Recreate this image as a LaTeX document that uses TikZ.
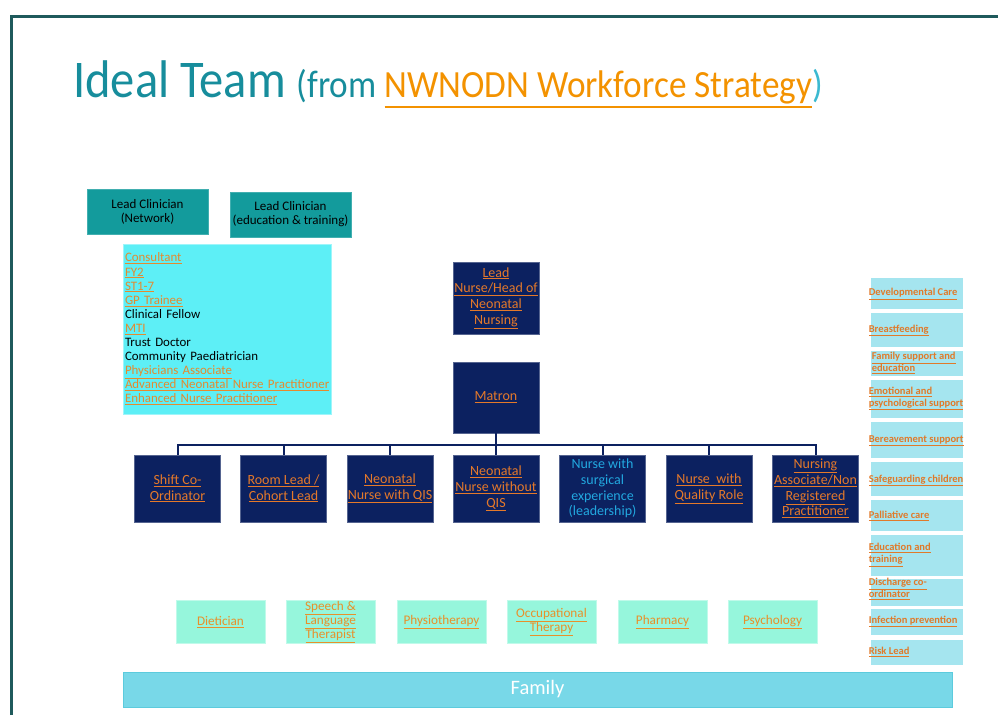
\documentclass[tikz,border=0pt]{standalone}
\usepackage{fontspec}
\setmainfont{Carlito}
\definecolor{frameC}{HTML}{1F5A5C}
\definecolor{titleC}{HTML}{178D9C}
\definecolor{linkC}{HTML}{F39200}
\definecolor{parenC}{HTML}{3BB9D0}
\definecolor{leadC}{HTML}{139B9C}
\definecolor{listC}{HTML}{5DEFF6}
\definecolor{navyC}{HTML}{0C2160}
\definecolor{navyTxt}{HTML}{E5792A}
\definecolor{surgC}{HTML}{22A8E0}
\definecolor{listTxt}{HTML}{E58A2E}
\definecolor{mintC}{HTML}{96F6DC}
\definecolor{mintTxt}{HTML}{E8902A}
\definecolor{sideC}{HTML}{A5E5EF}
\definecolor{sideTxt}{HTML}{E07A2A}
\definecolor{famC}{HTML}{78D8E8}
\definecolor{famB}{HTML}{5CCBDD}
\newcommand{\ulk}[1]{\underline{#1}}
\newcommand{\thickul}[1]{\vtop{\hbox{#1}\kern2.2pt\hrule height 2.2pt}}
\tikzset{
  leadbox/.style={fill=leadC, draw=leadC!80!white, minimum width=121pt, minimum height=45pt, inner sep=0pt, align=center, text=black, font=\fontsize{13}{14}\selectfont},
  navybox/.style={fill=navyC, draw=navyC!70!white, line width=0.6pt, minimum width=86pt, minimum height=67pt, inner sep=0pt, align=center, text=navyTxt, font=\fontsize{14}{15.7}\selectfont},
  mintbox/.style={fill=mintC, draw=mintC!60!white, minimum width=89pt, minimum height=43pt, inner sep=0pt, align=center, text=mintTxt, font=\fontsize{13.2}{14.2}\selectfont},
  sidebox/.style={fill=sideC, draw=white, line width=0.8pt, minimum width=93pt, inner sep=0pt},
  sidetext/.style={anchor=west, inner sep=0pt, align=left, text=sideTxt, font=\fontsize{10.5}{12}\selectfont\bfseries},
  conn/.style={draw=navyC, line width=2pt}
}
\begin{document}
\begin{tikzpicture}[x=1pt,y=-1pt]
\useasboundingbox (0,0) rectangle (998,715);
% frame
\draw[frameC, line width=3pt] (11,715) -- (11,16.5) -- (998,16.5);
% title
\node[anchor=base west, inner sep=0pt, text=titleC] (title) at (73,97)
  {\scalebox{0.915}[1]{\fontsize{53}{60}\selectfont Ideal Team \fontsize{38.5}{44}\selectfont(from {\color{linkC}\thickul{NWNODN Workforce Strategy}}{\color{parenC})}}};
% lead clinicians
\node[leadbox] (lc1) at (147.5,211.5) {Lead Clinician\\(Network)};
\node[leadbox] (lc2) at (290.5,214.5) {Lead Clinician\\(education \& training)};
% list box
\node[fill=listC, draw=listC!60!white, minimum width=208pt, minimum height=170pt, text width=204pt, inner xsep=2pt, inner ysep=0pt, align=left, font=\fontsize{12.9}{14.1}\selectfont, text=black] (list) at (227,329)
 {{\color{listTxt}\ulk{Consultant}}\\
  {\color{listTxt}\ulk{FY2}}\\
  {\color{listTxt}\ulk{ST1-7}}\\
  {\color{listTxt}\ulk{GP Trainee}}\\
  Clinical Fellow\\
  {\color{listTxt}\ulk{MTI}}\\
  Trust Doctor\\
  Community Paediatrician\\
  {\color{listTxt}\ulk{Physicians Associate}}\\
  {\color{listTxt}\ulk{Advanced Neonatal Nurse Practitioner}}\\
  {\color{listTxt}\ulk{Enhanced Nurse Practitioner}}};
% lead nurse and matron
\node[navybox, minimum height=72pt] (lead) at (496,298) {\ulk{Lead}\\\ulk{Nurse/Head of}\\\ulk{Neonatal}\\\ulk{Nursing}};
\node[navybox, minimum height=71pt] (matron) at (496,397.5) {\ulk{Matron}};
% row
\node[navybox] (s1) at (177.5,488.5) {\ulk{Shift Co-}\\\ulk{Ordinator}};
\node[navybox] (s2) at (283.5,488.5) {\ulk{Room Lead /}\\\ulk{Cohort Lead}};
\node[navybox] (s3) at (390,488.5) {\ulk{Neonatal}\\\ulk{Nurse with QIS}};
\node[navybox] (s4) at (496,488.5) {\ulk{Neonatal}\\\ulk{Nurse without}\\\ulk{QIS}};
\node[navybox, text=surgC] (s5) at (602.5,488.5) {Nurse with\\surgical\\experience\\(leadership)};
\node[navybox] (s6) at (709,488.5) {\ulk{Nurse\ \ with}\\\ulk{Quality Role}};
\node[navybox] (s7) at (815.5,488.5) {\ulk{Nursing}\\\ulk{Associate/Non}\\\ulk{Registered}\\\ulk{Practitioner}};
% connectors
\coordinate (bus) at (496,444.5);
\draw[conn] (matron.south) -- (bus);
\draw[conn] (s1.north) -- (s1.north |- bus) -- (s7.north |- bus) -- (s7.north);
\foreach \n in {s2,s3,s4,s5,s6} \draw[conn] (\n.north) -- (\n.north |- bus);
% allied health
\node[mintbox] (m1) at (220.5,622) {\ulk{Dietician}};
\node[mintbox] (m2) at (330.5,622) {\ulk{Speech \&}\\\ulk{Language}\\\ulk{Therapist}};
\node[mintbox] (m3) at (441.5,622) {\ulk{Physiotherapy}};
\node[mintbox] (m4) at (551.5,622) {\ulk{Occupational}\\\ulk{Therapy}};
\node[mintbox] (m5) at (662.5,622) {\ulk{Pharmacy}};
\node[mintbox] (m6) at (772.5,622) {\ulk{Psychology}};
% side column
\node[sidebox, minimum height=32pt] (r1) at (916.5,293) {};
\node[sidetext] (r1t) at ([xshift=-1pt,yshift=-1pt]r1.west) {\ulk{Developmental Care}};
\node[sidebox, minimum height=35pt] (r2) at (916.5,329.5) {};
\node[sidetext] (r2t) at ([xshift=-1pt,yshift=-1pt]r2.west) {\ulk{Breastfeeding}};
\node[sidebox, minimum height=26pt] (r3) at (916.5,363) {};
\node[sidetext] (r3t) at ([xshift=2pt]r3.west) {\ulk{Family support and}\\\ulk{education}};
\node[sidebox, minimum height=39pt] (r4) at (916.5,398.5) {};
\node[sidetext] (r4t) at ([xshift=-1pt]r4.west) {\ulk{Emotional and}\\\ulk{psychological support}};
\node[sidebox, minimum height=37pt] (r5) at (916.5,439.5) {};
\node[sidetext] (r5t) at ([xshift=-1pt,yshift=-1pt]r5.west) {\ulk{Bereavement support}};
\node[sidebox, minimum height=35pt] (r6) at (916.5,478.5) {};
\node[sidetext] (r6t) at ([xshift=-1pt,yshift=-2pt]r6.west) {\ulk{Safeguarding children}};
\node[sidebox, minimum height=32pt] (r7) at (916.5,515) {};
\node[sidetext] (r7t) at ([xshift=-1pt,yshift=-1pt]r7.west) {\ulk{Palliative care}};
\node[sidebox, minimum height=42pt] (r8) at (916.5,555) {};
\node[sidetext] (r8t) at ([xshift=-1pt]r8.west) {\ulk{Education and}\\\ulk{training}};
\node[sidebox, minimum height=28pt] (r9) at (916.5,592) {};
\node[sidetext] (r9t) at ([xshift=-1pt,yshift=3pt]r9.west) {\ulk{Discharge co-}\\\ulk{ordinator}};
\node[sidebox, minimum height=27pt] (r10) at (916.5,621.5) {};
\node[sidetext] (r10t) at ([xshift=-1pt]r10.west) {\ulk{Infection prevention}};
\node[sidebox, minimum height=26pt] (r11) at (916.5,652) {};
\node[sidetext] (r11t) at ([xshift=-1pt]r11.west) {\ulk{Risk Lead}};
% family
\node[fill=famC, draw=famB, line width=0.8pt, minimum width=829pt, minimum height=35pt, inner sep=0pt, text=white, font=\fontsize{20.5}{24}\selectfont] (family) at (537.5,689.5) {Family};
\end{tikzpicture}
\end{document}
